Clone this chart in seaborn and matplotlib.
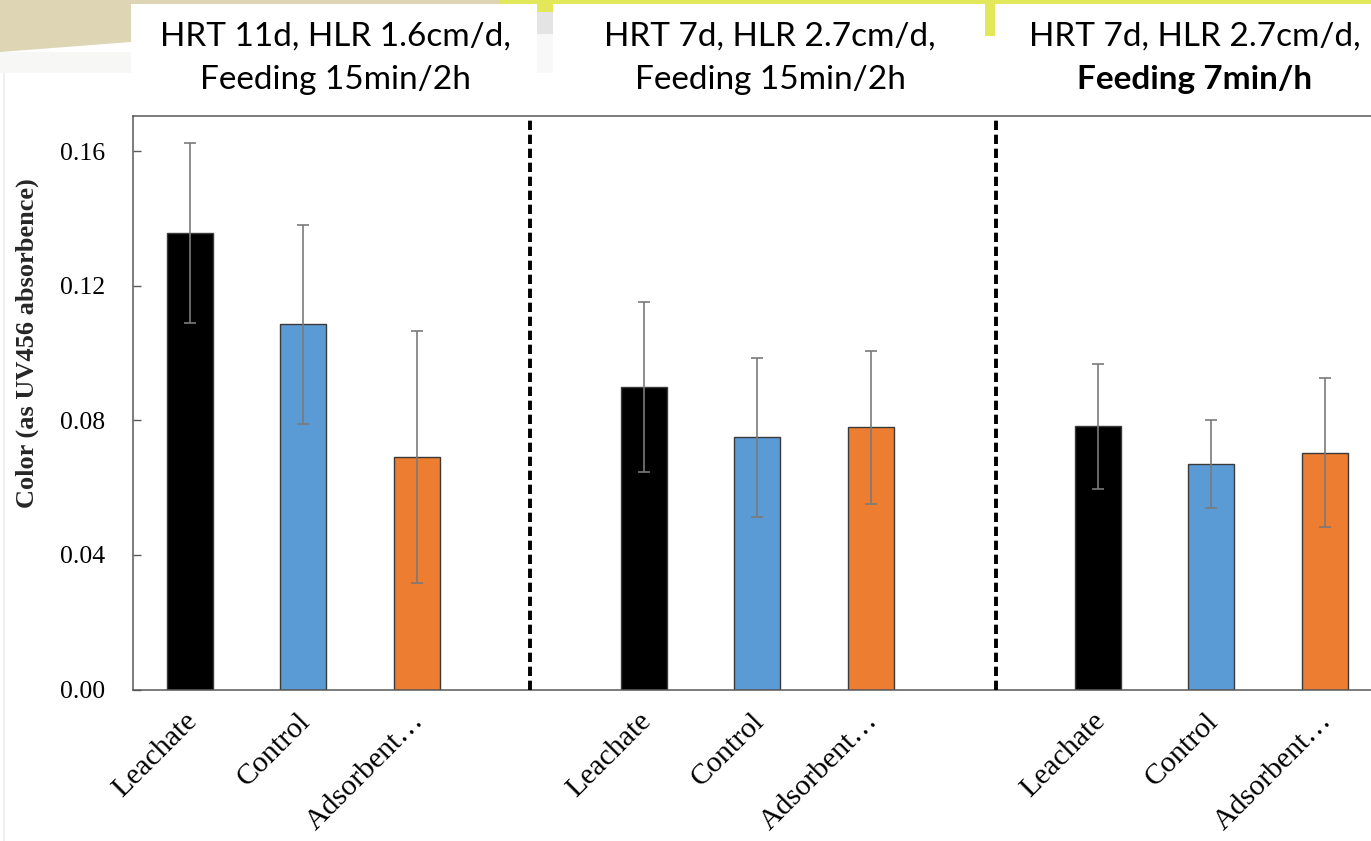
import matplotlib
matplotlib.use("Agg")
import matplotlib.pyplot as plt
from matplotlib.patches import Rectangle, Polygon
from matplotlib.transforms import ScaledTranslation
import numpy as np
import pandas as pd
import seaborn as sns

# ---- data -------------------------------------------------------------
treatments = ["Leachate", "Control", "Adsorbent…"]
tick_labels = ["Leachate", "Control", "Adsorbent…"] * 3
slots = [0, 1, 2, 4, 5, 6, 8, 9, 10]          # empty slots separate the phases
colour_values = [0.1357, 0.1086, 0.0691,
                 0.0900, 0.0750, 0.0779,
                 0.0782, 0.0671, 0.0704]
colour_errors = [0.0267, 0.0296, 0.0375,
                 0.0252, 0.0236, 0.0227,
                 0.0185, 0.0131, 0.0221]
divider_slots = [3.0, 7.1]
phase_line1 = ["HRT 11d, HLR 1.6cm/d,", "HRT 7d, HLR 2.7cm/d,", "HRT 7d, HLR 2.7cm/d,"]
phase_line2 = ["Feeding 15min/2h", "Feeding 15min/2h", "Feeding 7min/h"]
phase_line2_bold = [False, False, True]
y_ticks = [0.00, 0.04, 0.08, 0.12, 0.16]

palette = {"Leachate": "#000000", "Control": "#5b9bd5", "Adsorbent…": "#ed7d31"}

df = pd.DataFrame({
    "slot": slots,
    "value": colour_values,
    "error": colour_errors,
    "treatment": treatments * 3,
})

# ---- figure -----------------------------------------------------------
W, H = 1371, 841
sns.set_theme(style="white")
plt.rcParams["font.family"] = ["Liberation Serif", "DejaVu Serif"]

fig = plt.figure(figsize=(W / 100, H / 100), dpi=100)
fig.patch.set_facecolor("white")


def fx(x):
    return x / W


def fy(y):
    return 1 - y / H


def band(x0, y0, x1, y1, color):
    fig.patches.append(Rectangle((fx(x0), fy(y1)), fx(x1) - fx(x0), fy(y0) - fy(y1),
                                 transform=fig.transFigure, facecolor=color,
                                 edgecolor="none", zorder=0))


# slide decoration behind the phase headings
fig.patches.append(Polygon([(fx(0), fy(0)), (fx(540), fy(0)), (fx(540), fy(36)),
                            (fx(131), fy(42)), (fx(0), fy(52))],
                           closed=True, transform=fig.transFigure,
                           facecolor="#ddd5b3", edgecolor="none", zorder=0))
band(0, 52, 131, 73, "#f7f7f5")
band(500, 0, W, 5, "#e3e85b")
band(537, 5, 553, 12, "#e3e85b")
band(537, 12, 553, 34, "#e4e4e4")
band(537, 34, 553, 73, "#f8f8f8")
band(985, 5, 995, 36, "#e3e85b")
band(131, 4, 537, 73, "white")
band(553, 4, 985, 73, "white")
band(995, 4, W, 73, "white")
band(3, 73, 5, H, "#f0f0f0")

# ---- axes -------------------------------------------------------------
ax = fig.add_axes([fx(133), fy(689.5), fx(1381.5) - fx(133), fy(116) - fy(689.5)])
ax.set_facecolor("white")

sns.barplot(data=df, x="slot", y="value", hue="treatment", palette=palette,
            native_scale=True, dodge=False, width=0.405, errorbar=None,
            saturation=1, edgecolor="#3a3a3a", linewidth=1.0, legend=False,
            ax=ax, zorder=2)

ax.errorbar(df["slot"], df["value"], yerr=df["error"], fmt="none",
            ecolor="#7a7a7a", elinewidth=1.2, capsize=4, capthick=1.2, zorder=3)

for d in divider_slots:
    ax.axvline(d, color="black", linewidth=2.8, dashes=(2.4, 1.2), zorder=4)

ax.set_xlim(-0.5, 10.5)
ax.set_ylim(0, 0.1705)
ax.set_yticks(y_ticks)
ax.set_yticklabels([f"{t:.2f}" for t in y_ticks], fontsize=18.5, color="black")
ax.tick_params(axis="y", direction="in", length=6, width=1.0, color="#595959",
               left=True, pad=20)

ax.set_xticks(slots)
ax.set_xticklabels(tick_labels, fontsize=21.5, rotation=45, ha="right",
                   va="center", rotation_mode="anchor", color="black")
ax.tick_params(axis="x", length=0, pad=20)
for lab in ax.get_xticklabels():
    lab.set_transform(lab.get_transform() + ScaledTranslation(3 / 100, 0, fig.dpi_scale_trans))

ax.set_xlabel("")
ax.set_ylabel("")
for side in ["left", "top", "bottom"]:
    ax.spines[side].set_color("#595959")
    ax.spines[side].set_linewidth(1.1)
ax.spines["right"].set_visible(False)

fig.text(fx(27), fy(343), "Color (as UV456 absorbence)", rotation=90,
         ha="center", va="center", fontsize=19, fontweight="bold",
         family=["Liberation Serif", "DejaVu Serif"])

# ---- phase headings -----------------------------------------------------
heading_x = [335, 770, 1195]
for hx, l1, l2, b in zip(heading_x, phase_line1, phase_line2, phase_line2_bold):
    fig.text(fx(hx), fy(37), l1, ha="center", va="center", fontsize=24,
             family=["Lato", "DejaVu Sans"], color="black")
    fig.text(fx(hx), fy(80), l2, ha="center", va="center", fontsize=24,
             family=["Lato", "DejaVu Sans"], color="black",
             fontweight="bold" if b else "normal")

fig.savefig("out.png", dpi=100)
